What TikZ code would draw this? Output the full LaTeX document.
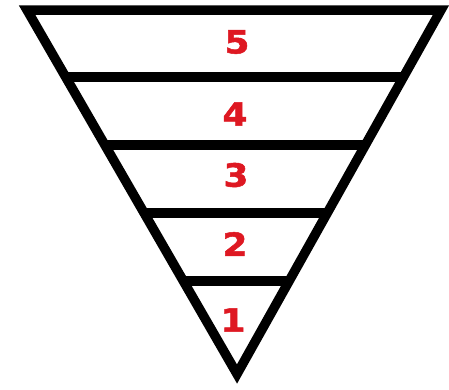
\documentclass[tikz,border=0pt]{standalone}
\usepackage{fontspec}
\newfontfamily\numfont{DejaVu Sans}[BoldFeatures={FakeBold=1.6}]
\usetikzlibrary{calc}
\definecolor{numred}{RGB}{222,24,34}
\newcommand{\wnum}[1]{\scalebox{1.12}[1]{#1}}
\tikzset{
  edge/.style={line width=9.5pt, line join=miter, miter limit=20},
  level/.style={line width=9.5pt},
  num/.style={inner sep=0pt, text=numred, font=\numfont\bfseries\fontsize{32}{32}\selectfont}
}
\begin{document}
\begin{tikzpicture}[x=1pt,y=-1pt]
\useasboundingbox (0,0) rectangle (449,389);
\coordinate (TL) at (27,10);
\coordinate (TR) at (441,10);
\coordinate (AP) at (237,374);
\draw[edge] (TL) -- (TR) -- (AP) -- cycle;
\foreach \t [count=\i] in {0.184,0.371,0.558,0.7445}{
  \coordinate (L\i) at ($(TL)!\t!(AP)$);
  \coordinate (R\i) at ($(TR)!\t!(AP)$);
  \draw[level] (L\i) -- (R\i);
}
\node[num] (n5) at (237,42) {\wnum{5}};
\node[num] (n4) at (235,114) {\wnum{4}};
\node[num] (n3) at (236,175) {\wnum{3}};
\node[num] (n2) at (235,244) {\wnum{2}};
\node[num] (n1) at (233,320) {\wnum{1}};
\end{tikzpicture}
\end{document}
